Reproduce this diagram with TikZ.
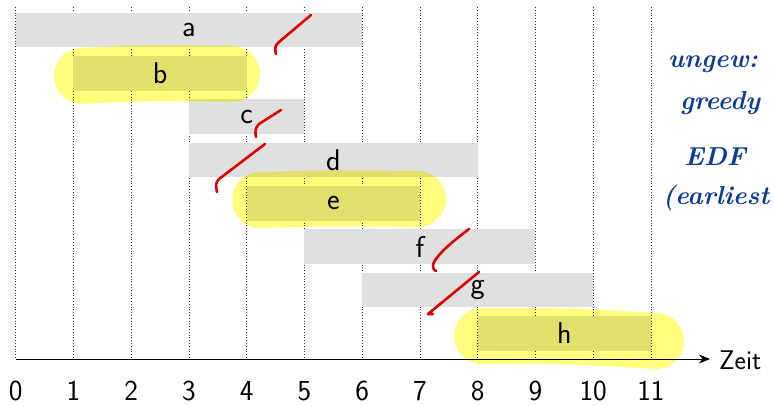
\documentclass[tikz,border=0pt]{standalone}
\usetikzlibrary{arrows.meta}
\definecolor{barfill}{RGB}{224,224,224}
\definecolor{hlyellow}{RGB}{255,255,125}
\definecolor{penred}{RGB}{215,0,0}
\definecolor{penblue}{RGB}{15,60,145}
\tikzset{
  job/.style={fill=barfill, draw=none, minimum height=34.7pt, inner sep=0pt,
              font=\fontsize{30}{32}\selectfont\sffamily},
  tick/.style={font=\fontsize{29}{30}\selectfont\sffamily, inner sep=0pt},
  gridline/.style={dotted, line width=0.8pt, black!80},
  marker/.style={hlyellow, line width=56pt, line cap=round, line join=round},
  pen/.style={penred, line width=2.6pt, line cap=round, line join=round},
  note/.style={penblue, font=\fontsize{26}{28}\selectfont\bfseries\itshape, inner sep=0pt}
}
\begin{document}
\begin{tikzpicture}[x=1pt, y=-1pt]
\useasboundingbox (0,0) rectangle (773,406);

% time grid
\foreach \i in {0,...,11}
  \draw[gridline] (15.7+57.75*\i, 7) -- (15.7+57.75*\i, 359);

% jobs: top of row r is 12.7+43.3r, start s, end e
\foreach \name/\r/\s/\e in {a/0/0/6, b/1/1/4, c/2/3/5, d/3/3/8,
                             e/4/4/7, f/5/5/9, g/6/6/10, h/7/8/11}
  \node[job, minimum width={57.75*(\e-\s)*1pt}]
    (\name) at ({15.7+57.75*(\s+\e)/2}, {12.7+43.3*\r+17.35}) {\name};

% time axis
\coordinate (o) at (15.7,359);
\coordinate (tip) at (710,359);
\draw[line width=1pt, -{Stealth[length=11pt, width=9pt]}] (o) -- (tip);
\node[font=\fontsize{27}{30}\selectfont\sffamily, anchor=west, inner sep=0pt]
  (zeit) at (719,360) {Zeit};
\foreach \i in {0,...,11}
  \node[tick] (t\i) at (15.7+57.75*\i, 391) {\i};

% highlighter marks on the chosen jobs
\begin{scope}[blend mode=multiply]
  \draw[marker] (82,76) .. controls (140,73) .. (232,74);
  \draw[marker] (260,200) .. controls (330,198) .. (418,199);
  \draw[marker] (482,336) .. controls (570,336) .. (656,341);
\end{scope}

% red strokes crossing out conflicting jobs
\draw[pen] (311,15) -- (279,42) .. controls (274,46) and (275,50) .. (276,54);
\draw[pen] (281,110) -- (259,124) .. controls (255,128) and (255,132) .. (256,137);
\draw[pen] (265,144) -- (219,179) .. controls (215,183) and (216,187) .. (217,192);
\draw[pen] (469,229) .. controls (452,242) and (440,252) .. (434,262)
           .. controls (432,266) and (433,270) .. (436,271);
\draw[pen] (479,272) -- (428,314) -- (433,314);

% handwritten note
\node[note] (n1) at (713,64) {ungew:};
\node[note] (n2) at (720,103) {greedy};
\node[note] (n3) at (715,157) {EDF};
\node[note] (n4) at (716,198) {(earliest};
\end{tikzpicture}
\end{document}
